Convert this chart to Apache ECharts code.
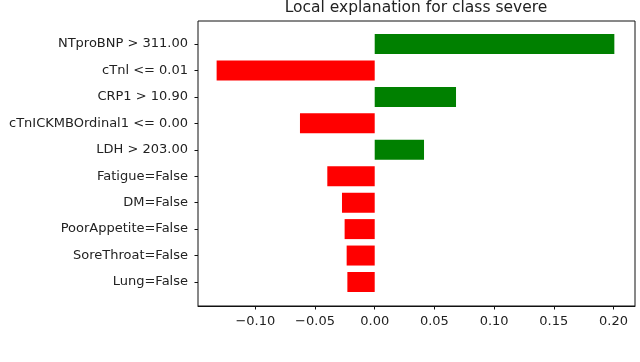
<!DOCTYPE html>
<html>
<head>
<meta charset="utf-8">
<script src="https://cdn.jsdelivr.net/npm/echarts@6/dist/echarts.min.js"></script>
<style>html,body{margin:0;padding:0;background:#fff}#c{width:640px;height:362px}</style>
</head>
<body>
<div id="c"></div>
<script>
const categories = ["NTproBNP > 311.00", "cTnl <= 0.01", "CRP1 > 10.90", "cTnICKMBOrdinal1 <= 0.00", "LDH > 203.00", "Fatigue=False", "DM=False", "PoorAppetite=False", "SoreThroat=False", "Lung=False"];
const weights = [0.2007, -0.1324, 0.0681, -0.0626, 0.0413, -0.0397, -0.0274, -0.0252, -0.0235, -0.0229];
const xTicks = [-0.10, -0.05, 0.00, 0.05, 0.10, 0.15, 0.20];
const titleText = "Local explanation for class severe";

const FONT = "DejaVu Sans";
const xMin = -0.148, xMax = 0.218;
const chart = echarts.init(document.getElementById('c'), null, {renderer: 'canvas'});
chart.setOption({
  animation: false,
  backgroundColor: '#fff',
  textStyle: {fontFamily: FONT},
  title: {
    text: titleText, left: 416, top: 0, textAlign: 'center', padding: 0,
    textStyle: {fontFamily: FONT, fontSize: 15.5, fontWeight: 'normal', color: '#222'}
  },
  grid: [
    {left: 198, right: 5, top: 30.8, height: 264.4},
    {left: 198, right: 5, top: 21, height: 285, show: true, borderColor: '#111', borderWidth: 1, backgroundColor: 'transparent'}
  ],
  xAxis: [
    {type: 'value', gridIndex: 0, min: xMin, max: xMax, show: false},
    {type: 'value', gridIndex: 1, min: xMin, max: xMax, position: 'bottom',
     splitLine: {show: false},
     axisLine: {show: true, onZero: false, lineStyle: {color: '#111'}},
     axisTick: {show: true, length: 3.5, lineStyle: {color: '#111'}, customValues: xTicks},
     axisLabel: {show: true, customValues: xTicks, fontSize: 13, color: '#222', margin: 9, fontFamily: FONT,
       formatter: v => (v < 0 ? '\u2212' : '') + Math.abs(v).toFixed(2)}}
  ],
  yAxis: [
    {type: 'category', gridIndex: 0, data: categories, inverse: true, position: 'left',
     axisLine: {show: false, onZero: false},
     axisTick: {show: true, alignWithLabel: true, length: 3.5, lineStyle: {color: '#111'}},
     axisLabel: {fontSize: 13, color: '#222', margin: 10, fontFamily: FONT},
     splitLine: {show: false}},
    {type: 'value', gridIndex: 1, min: 0, max: 1, show: false}
  ],
  series: [{
    type: 'bar', xAxisIndex: 0, yAxisIndex: 0, barWidth: 20,
    data: weights.map(v => ({value: v, itemStyle: {color: v >= 0 ? '#008000' : '#ff0000'}}))
  }]
});
</script>
</body>
</html>
